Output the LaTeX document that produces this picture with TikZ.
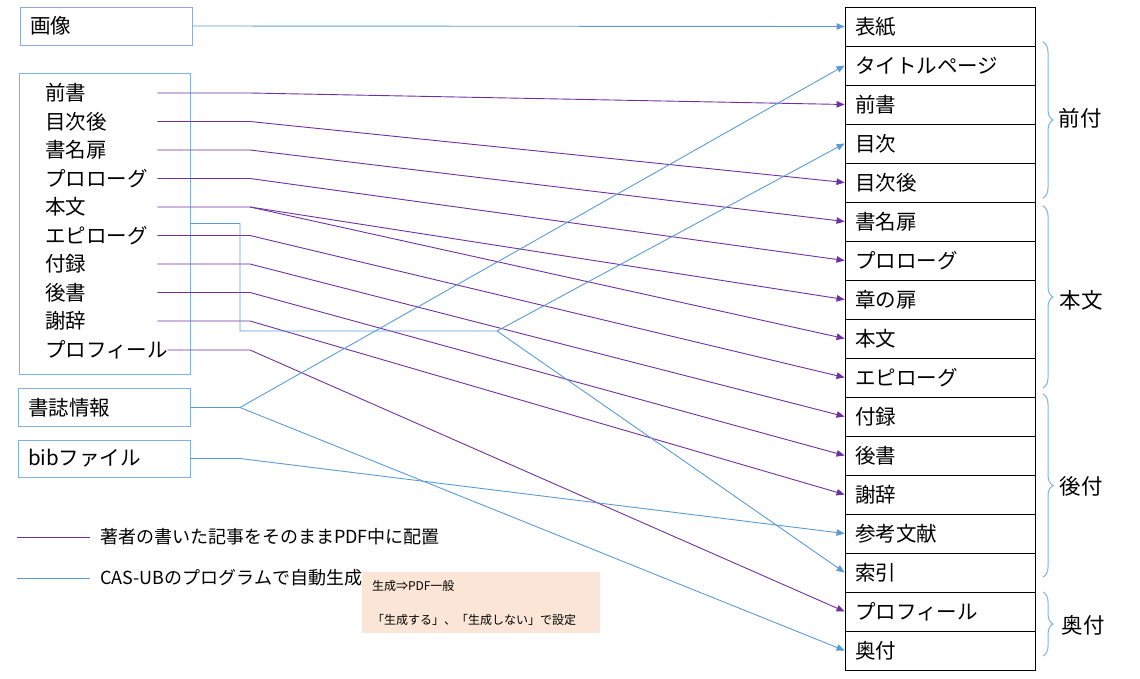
\documentclass[tikz,border=0pt]{standalone}
\usepackage{fontspec}
\setmainfont{Noto Sans CJK JP}
\usetikzlibrary{arrows.meta,positioning,calc,decorations.pathreplacing}
\definecolor{authp}{HTML}{7030A0}
\definecolor{genb}{HTML}{5B9BD5}
\definecolor{srcbox}{HTML}{8FAADC}
\definecolor{brc}{HTML}{7FB2E0}
\definecolor{notebg}{HTML}{FBE5D6}
\newcommand{\fsz}[1]{\fontsize{#1}{#1}\selectfont}
\tikzset{
  auth/.style={-{Triangle[length=8pt,width=6.5pt]},authp,line width=0.9pt},
  gen/.style={-{Triangle[length=8pt,width=6.5pt]},genb,line width=0.9pt},
  grptext/.style={font=\fsz{21.5},inner sep=0pt}
}
\begin{document}
\begin{tikzpicture}[x=1pt,y=-1pt,
  pg/.style={draw,line width=0.9pt,minimum width=190pt,minimum height=39pt,
    inner xsep=0pt,text width=170pt,align=left,font=\fsz{20.5}},
  src/.style={draw=srcbox,line width=0.9pt,minimum width=172pt,minimum height=38pt,
    inner xsep=0pt,text width=152pt,align=left,font=\fsz{20.5}},
  it/.style={anchor=west,inner sep=0pt,text width=112pt,font=\fsz{20.5}},
  lgd/.style={anchor=west,inner sep=0pt,font=\fsz{18}},
  note/.style={fill=notebg,minimum width=238pt,minimum height=61pt,
    text width=218pt,align=left,font=\fontsize{12}{34}\selectfont},
  brace/.style={brc,line width=1pt,decorate,decoration={brace,amplitude=10pt}}]
\useasboundingbox (0,0) rectangle (1140,678);
% output pages
\node[pg] (b1) at (940,26.5) {表紙};
\node[pg] (b2) at (940,65.5) {タイトルページ};
\node[pg] (b3) at (940,104.5) {前書};
\node[pg] (b4) at (940,143.5) {目次};
\node[pg] (b5) at (940,182.5) {目次後};
\node[pg] (b6) at (940,221.5) {書名扉};
\node[pg] (b7) at (940,260.5) {プロローグ};
\node[pg] (b8) at (940,299.5) {章の扉};
\node[pg] (b9) at (940,338.5) {本文};
\node[pg] (b10) at (940,377.5) {エピローグ};
\node[pg] (b11) at (940,416.5) {付録};
\node[pg] (b12) at (940,455.5) {後書};
\node[pg] (b13) at (940,494.5) {謝辞};
\node[pg] (b14) at (940,533.5) {参考文献};
\node[pg] (b15) at (940,572.5) {索引};
\node[pg] (b16) at (940,611.5) {プロフィール};
\node[pg] (b17) at (940,650.5) {奥付};
% sources
\node[src] (g) at (106,26) {画像};
\node[draw=brc,line width=0.9pt,minimum width=171pt,minimum height=301pt] (ml) at (104.5,223.5) {};
\node[it] (a1) at (45,93) {前書};
\node[it] (a2) at (45,121.5) {目次後};
\node[it] (a3) at (45,150) {書名扉};
\node[it] (a4) at (45,178.5) {プロローグ};
\node[it] (a5) at (45,207) {本文};
\node[it] (a6) at (45,235.5) {エピローグ};
\node[it] (a7) at (45,264) {付録};
\node[it] (a8) at (45,292.5) {後書};
\node[it] (a9) at (45,321) {謝辞};
\node[it,text width=122pt] (a10) at (45,350) {プロフィール};
\node[src,draw=brc] (bi) at (104,407.5) {書誌情報};
\node[src,draw=brc,minimum height=37pt] (bf) at (104,458.5) {bibファイル};
\coordinate (kx) at (250,0);
\coordinate (sx) at (240,0);
\coordinate (jn) at (497,331);
% article pages
\draw[auth] (a1.east) -- (a1.east -| kx) -- (b3.west);
\draw[auth] (a2.east) -- (a2.east -| kx) -- (b5.west);
\draw[auth] (a3.east) -- (a3.east -| kx) -- (b6.west);
\draw[auth] (a4.east) -- (a4.east -| kx) -- (b7.west);
\draw[auth] (a5.east) -- (a5.east -| kx) -- (b8.west);
\draw[auth] (a5.east -| kx) -- (b9.west);
\draw[auth] (a6.east) -- (a6.east -| kx) -- (b10.west);
\draw[auth] (a7.east) -- (a7.east -| kx) -- (b11.west);
\draw[auth] (a8.east) -- (a8.east -| kx) -- (b12.west);
\draw[auth] (a9.east) -- (a9.east -| kx) -- (b13.west);
\draw[auth] (a10.east) -- (a10.east -| kx) -- (b16.west);
% generated pages
\draw[gen] (g.east) -- (b1.west);
\draw[gen] (bi.east) -- (bi.east -| sx) -- (b2.west);
\draw[gen] (bi.east -| sx) -- (b17.west);
\draw[gen] (bf.east) -- (bf.east -| sx) -- (b14.west);
\draw[gen] (ml.east) -- (ml.east -| sx) -- (sx |- jn) -- (jn) -- (b4.west);
\draw[gen] (jn) -- (b15.west);
% groups
\draw[brace] (1043,42) -- (1043,198);
\draw[brace] (1043,206) -- (1043,388);
\draw[brace] (1043,394) -- (1043,577);
\draw[brace] (1043,592) -- (1043,656);
\node[grptext] (fz) at (1080,118) {前付};
\node[grptext] (hb) at (1081,300) {本文};
\node[grptext] (az) at (1081,486) {後付};
\node[grptext] (oz) at (1083,625) {奥付};
% legend
\node[lgd] (lg1) at (100,537) {著者の書いた記事をそのままPDF中に配置};
\node[lgd] (lg2) at (100,578) {CAS-UBのプログラムで自動生成};
\draw[authp,line width=0.9pt] ([xshift=-10pt]lg1.west) -- ++(-73,0);
\draw[genb,line width=0.9pt] ([xshift=-10pt]lg2.west) -- ++(-73,0);
\node[note] (nt) at (481,602.5) {生成⇒PDF一般\\「生成する」、「生成しない」で設定};
\end{tikzpicture}
\end{document}
